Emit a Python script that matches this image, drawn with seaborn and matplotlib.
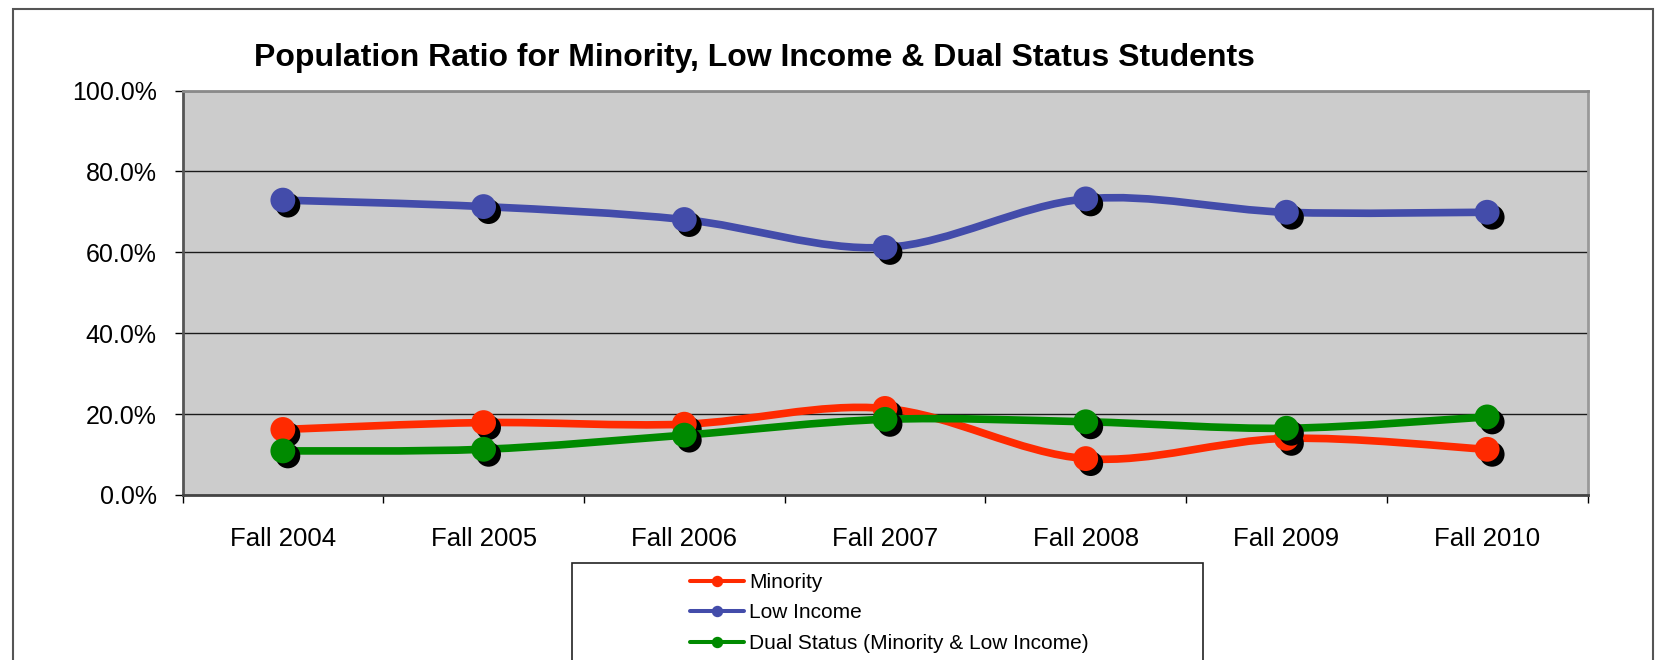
import numpy as np
import pandas as pd
import matplotlib
matplotlib.use("Agg")
import matplotlib.pyplot as plt
import seaborn as sns
from matplotlib.path import Path
from matplotlib.patches import PathPatch, Rectangle
from matplotlib.lines import Line2D
from matplotlib.ticker import FuncFormatter
from matplotlib.transforms import offset_copy

# Data (percent)
categories = ["Fall 2004", "Fall 2005", "Fall 2006", "Fall 2007", "Fall 2008", "Fall 2009", "Fall 2010"]
minority = [16.2, 17.9, 17.5, 21.4, 9.0, 14.0, 11.3]
low_income = [72.9, 71.3, 68.1, 61.2, 73.2, 69.9, 69.9]
dual_status = [10.9, 11.3, 14.8, 18.7, 18.1, 16.5, 19.3]
series_names = ["Minority", "Low Income", "Dual Status (Minority & Low Income)"]
colors = ["#ff2a00", "#434caa", "#008a00"]

n = len(categories)
df = pd.DataFrame({
    "period": categories * 3,
    "x": list(range(n)) * 3,
    "value": minority + low_income + dual_status,
    "series": np.repeat(series_names, n),
})

sns.set_style("white")
plt.rcParams["font.family"] = ["Liberation Sans", "DejaVu Sans"]
plt.rcParams.update({"text.color": "black", "xtick.color": "black", "ytick.color": "black"})

W, H = 1667, 660
fig = plt.figure(figsize=(W / 100, H / 100), dpi=100)
ax = fig.add_axes([182.5 / W, 1 - 495 / H, 1405 / W, (495 - 90.5) / H])
ax.set_facecolor("#cccccc")


def smooth_path(xs, ys):
    # Excel-style smoothed line: Catmull-Rom segments as cubic Beziers
    pts = np.column_stack([xs, ys]).astype(float)
    ext = np.vstack([pts[0], pts, pts[-1]])
    verts = [pts[0]]
    codes = [Path.MOVETO]
    for i in range(len(pts) - 1):
        p0, p1, p2, p3 = ext[i], ext[i + 1], ext[i + 2], ext[i + 3]
        verts += [p1 + (p2 - p0) / 6, p2 - (p3 - p1) / 6, p2]
        codes += [Path.CURVE4] * 3
    return Path(verts, codes)


shadow = offset_copy(ax.transData, fig=fig, x=3.6, y=-3.6, units="points")
for name, color in zip(series_names, colors):
    sub = df[df.series == name]
    ax.add_patch(PathPatch(smooth_path(sub.x.values, sub.value.values), fill=False,
                           edgecolor=color, lw=5.5, capstyle="round", joinstyle="round", zorder=3))
    sns.scatterplot(data=sub, x="x", y="value", color="black", s=320, edgecolor="none",
                    ax=ax, zorder=3, legend=False)
    ax.collections[-1].set_offset_transform(shadow)
    sns.scatterplot(data=sub, x="x", y="value", color=color, s=320, edgecolor="none",
                    ax=ax, zorder=3, legend=False)

ax.set_xlim(-0.5, n - 0.5)
ax.set_ylim(0, 100)
ax.set_xlabel("")
ax.set_ylabel("")

ax.set_yticks(range(0, 101, 20))
ax.yaxis.set_major_formatter(FuncFormatter(lambda v, p: f"{v:.1f}%"))
ax.yaxis.grid(True, color="#1a1a1a", lw=1)
ax.set_axisbelow(True)
ax.tick_params(axis="y", length=6, width=1, color="black", direction="out", pad=12.5,
               labelsize=18, left=True)

ax.set_xticks(range(n))
ax.set_xticklabels(categories)
ax.set_xticks(np.arange(-0.5, n, 1), minor=True)
ax.tick_params(axis="x", which="major", length=0, pad=23, labelsize=18.5)
ax.tick_params(axis="x", which="minor", length=6, width=1, color="black", direction="out", bottom=True)

for side, col in [("left", "#555555"), ("bottom", "#444444"), ("top", "#8a8a8a"), ("right", "#999999")]:
    ax.spines[side].set_visible(True)
    ax.spines[side].set_color(col)
    ax.spines[side].set_linewidth(2)

fig.text(754 / W, 1 - 66 / H, "Population Ratio for Minority, Low Income & Dual Status Students",
         ha="center", va="baseline", fontsize=23, fontweight="bold")

# outer chart border and legend box (both run off the bottom edge)
fig.patches.append(Rectangle((13 / W, -0.05), (1653 - 13) / W, 1 - 8.5 / H + 0.05, transform=fig.transFigure,
                             fill=False, edgecolor="#555555", lw=1.5))
fig.patches.append(Rectangle((572 / W, -0.05), (1203 - 572) / W, 1 - 563 / H + 0.05, transform=fig.transFigure,
                             fill=False, edgecolor="#222222", lw=1.2))

handles = [Line2D([0], [0], color=c, lw=2.9, marker="o", markersize=7.2) for c in colors]
fig.legend(handles, series_names, loc="upper left", bbox_to_anchor=(690 / W, 1 - 573 / H),
           frameon=False, fontsize=15, handlelength=2.58, handletextpad=0.24, labelspacing=0.55,
           borderpad=0, borderaxespad=0)

fig.savefig("out.png", dpi=100)
